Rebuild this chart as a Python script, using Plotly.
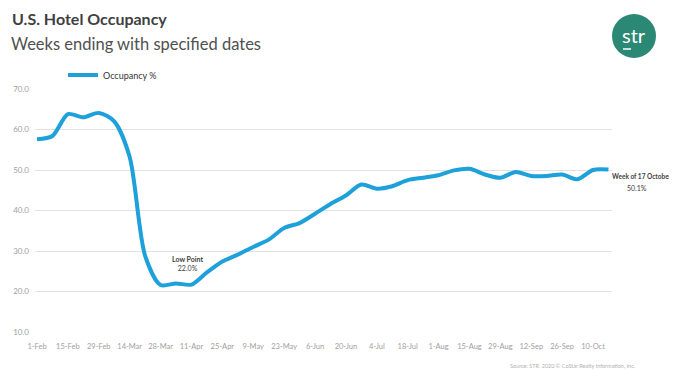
import plotly.graph_objects as go

# ---------------- data ----------------
weeks = ["1-Feb", "8-Feb", "15-Feb", "22-Feb", "29-Feb", "7-Mar", "14-Mar", "21-Mar",
         "28-Mar", "4-Apr", "11-Apr", "18-Apr", "25-Apr", "2-May", "9-May", "16-May",
         "23-May", "30-May", "6-Jun", "13-Jun", "20-Jun", "27-Jun", "4-Jul", "11-Jul",
         "18-Jul", "25-Jul", "1-Aug", "8-Aug", "15-Aug", "22-Aug", "29-Aug", "5-Sep",
         "12-Sep", "19-Sep", "26-Sep", "3-Oct", "10-Oct", "17-Oct"]
occupancy = [57.6, 58.4, 63.8, 63.0, 64.1, 62.0, 53.2, 28.8,
             21.6, 22.0, 21.7, 24.7, 27.4, 29.1, 31.0, 32.8,
             35.7, 36.9, 39.2, 41.6, 43.7, 46.4, 45.4, 46.0,
             47.5, 48.1, 48.7, 49.9, 50.3, 48.9, 48.1, 49.5,
             48.5, 48.5, 48.9, 47.7, 50.0, 50.1]
tick_labels = weeks[::2]
y_ticks = [10, 20, 30, 40, 50, 60, 70]
series_name = "Occupancy %"
low_label = "<b>Low Point</b><br>22.0%"
last_label = "<b>Week of 17 October</b>"
last_value = "50.1%"

# ---------------- layout geometry ----------------
OFF = 8                      # page body margin
W, H = 677 - OFF, 371 - OFF
L, R, T, B = 27, 65, 81, 39
PW, PH = W - L - R, H - T - B


def px_x(px):
    """page pixel x -> paper coordinate"""
    return (px - OFF - L) / PW


def px_y(py):
    """page pixel y -> paper coordinate"""
    return (H - B - (py - OFF)) / PH


LINE_COLOR = "#1EA0DA"
FONT = "Lato"

fig = go.Figure()
fig.add_trace(go.Scatter(
    x=weeks, y=occupancy, mode="lines", name=series_name,
    line=dict(color=LINE_COLOR, width=4, shape="spline", smoothing=0.8),
    hoverinfo="x+y",
))

annotations = [
    dict(text="<b>U.S. Hotel Occupancy</b>", xref="paper", yref="paper",
         x=px_x(10), y=px_y(18), xanchor="left", yanchor="middle", showarrow=False,
         font=dict(family=FONT, size=16, color="#3f3f3f")),
    dict(text="Weeks ending with specified dates", xref="paper", yref="paper",
         x=px_x(9), y=px_y(44), xanchor="left", yanchor="middle", showarrow=False,
         font=dict(family=FONT, size=16.5, color="#505050")),
    dict(text=low_label, xref="paper", yref="paper",
         x=px_x(187), y=px_y(263), xanchor="center", yanchor="middle", showarrow=False,
         font=dict(family=FONT, size=7, color="#404040")),
    dict(text=last_label, xref="paper", yref="paper",
         x=px_x(610), y=px_y(176), xanchor="left", yanchor="middle", showarrow=False,
         font=dict(family=FONT, size=6.5, color="#404040")),
    dict(text=last_value, xref="paper", yref="paper",
         x=px_x(637), y=px_y(188), xanchor="center", yanchor="middle", showarrow=False,
         font=dict(family=FONT, size=7, color="#404040")),
    dict(text="Source: STR. 2020 \u00a9 CoStar Realty Information, Inc.", xref="paper", yref="paper",
         x=px_x(572), y=px_y(366), xanchor="center", yanchor="middle", showarrow=False,
         font=dict(family=FONT, size=5.5, color="#b0b0b0")),
    dict(text="str", xref="paper", yref="paper",
         x=px_x(634), y=px_y(35), xanchor="center", yanchor="middle", showarrow=False,
         font=dict(family=FONT, size=20, color="white")),
]

shapes = [
    dict(type="circle", xref="paper", yref="paper", xsizemode="pixel", ysizemode="pixel",
         xanchor=px_x(634), yanchor=px_y(36), x0=-22, x1=22, y0=-22, y1=22,
         fillcolor="#2a8874", line=dict(width=0), layer="above"),
    dict(type="line", xref="paper", yref="paper",
         x0=px_x(623), x1=px_x(631), y0=px_y(49), y1=px_y(49),
         line=dict(color="white", width=1.5), layer="above"),
]

fig.update_layout(
    width=W, height=H,
    margin=dict(l=L, r=R, t=T, b=B, autoexpand=False),
    paper_bgcolor="white", plot_bgcolor="white",
    font=dict(family=FONT, color="#a0a0a0"),
    showlegend=True,
    legend=dict(orientation="h", x=px_x(63), y=px_y(75), xanchor="left", yanchor="middle",
                font=dict(family=FONT, size=9, color="#333333"),
                bgcolor="rgba(0,0,0,0)", itemwidth=30),
    annotations=annotations,
    shapes=shapes,
    xaxis=dict(type="category", range=[-0.13, 37.23], tickmode="array",
               tickvals=tick_labels, ticktext=tick_labels, showgrid=False,
               showline=False, zeroline=False, ticks="", ticklabelstandoff=8,
               automargin=False,
               tickfont=dict(family=FONT, size=7.5, color="#a0a0a0")),
    yaxis=dict(range=[10, 70], tickmode="array", tickvals=y_ticks,
               ticktext=[f"{v:.1f}" for v in y_ticks], showgrid=True,
               gridcolor="#e2e2e2", gridwidth=1, zeroline=False, showline=False,
               ticks="", ticklabelstandoff=5, automargin=False,
               tickfont=dict(family=FONT, size=8, color="#a0a0a0")),
)

fig.write_html("out.html")
